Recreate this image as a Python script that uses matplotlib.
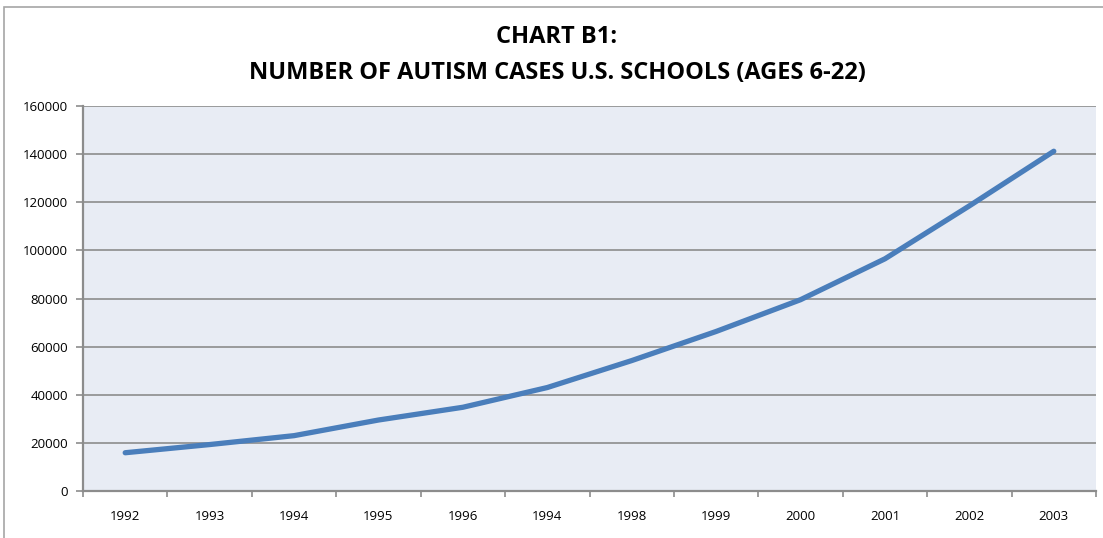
import matplotlib
matplotlib.use("Agg")
import matplotlib.pyplot as plt
from matplotlib.patches import Rectangle
import numpy as np

categories = ["1992", "1993", "1994", "1995", "1996", "1994", "1998", "1999", "2000", "2001", "2002", "2003"]
cases = [15900, 19300, 23000, 29500, 34800, 43000, 54200, 66300, 79500, 96500, 118500, 141200]
y_ticks = [0, 20000, 40000, 60000, 80000, 100000, 120000, 140000, 160000]

plt.rcParams['font.family'] = ['Open Sans', 'DejaVu Sans']

fig = plt.figure(figsize=(11.03, 5.38), dpi=100)
ax = fig.add_axes([83/1103, 47/538, (1096-83)/1103, (491-106)/538])

x = np.arange(len(categories))
ax.set_facecolor("#E8ECF4")
ax.plot(x, cases, color="#4A7EBB", lw=3.8, solid_capstyle="round", solid_joinstyle="round", zorder=3)

ax.set_xlim(-0.5, len(categories) - 0.5)
ax.set_ylim(0, 160000)
ax.set_yticks(y_ticks)
ax.set_yticklabels([str(v) for v in y_ticks], fontsize=9.5)
ax.yaxis.grid(True, color="#8C8C8C", lw=1.2)
ax.set_axisbelow(True)

ax.set_xticks(x)
ax.set_xticklabels(categories, fontsize=9.5)
ax.tick_params(axis="x", which="major", length=0, pad=14)
ax.set_xticks(np.arange(-0.5, len(categories)), minor=True)
ax.tick_params(axis="x", which="minor", length=4, color="#8C8C8C", width=1.2)
ax.tick_params(axis="y", length=5, color="#8C8C8C", width=1.2, pad=6)

for s in ["top", "right"]:
    ax.spines[s].set_visible(False)
for s in ["left", "bottom"]:
    ax.spines[s].set_color("#8C8C8C")
    ax.spines[s].set_linewidth(1.6)

fig.text(557/1103, 1 - 37/538, "CHART B1:", ha="center", va="center", fontsize=17, fontweight="bold")
fig.text(557/1103, 1 - 73/538, "NUMBER OF AUTISM CASES U.S. SCHOOLS (AGES 6-22)", ha="center", va="center", fontsize=17, fontweight="bold")

fig.patches.append(Rectangle((4/1103, -0.05), 1.1, 1 - 7/538 + 0.05, transform=fig.transFigure,
                             fill=False, edgecolor="#A6A6A6", lw=1.2))

fig.savefig("out.png", dpi=100)
